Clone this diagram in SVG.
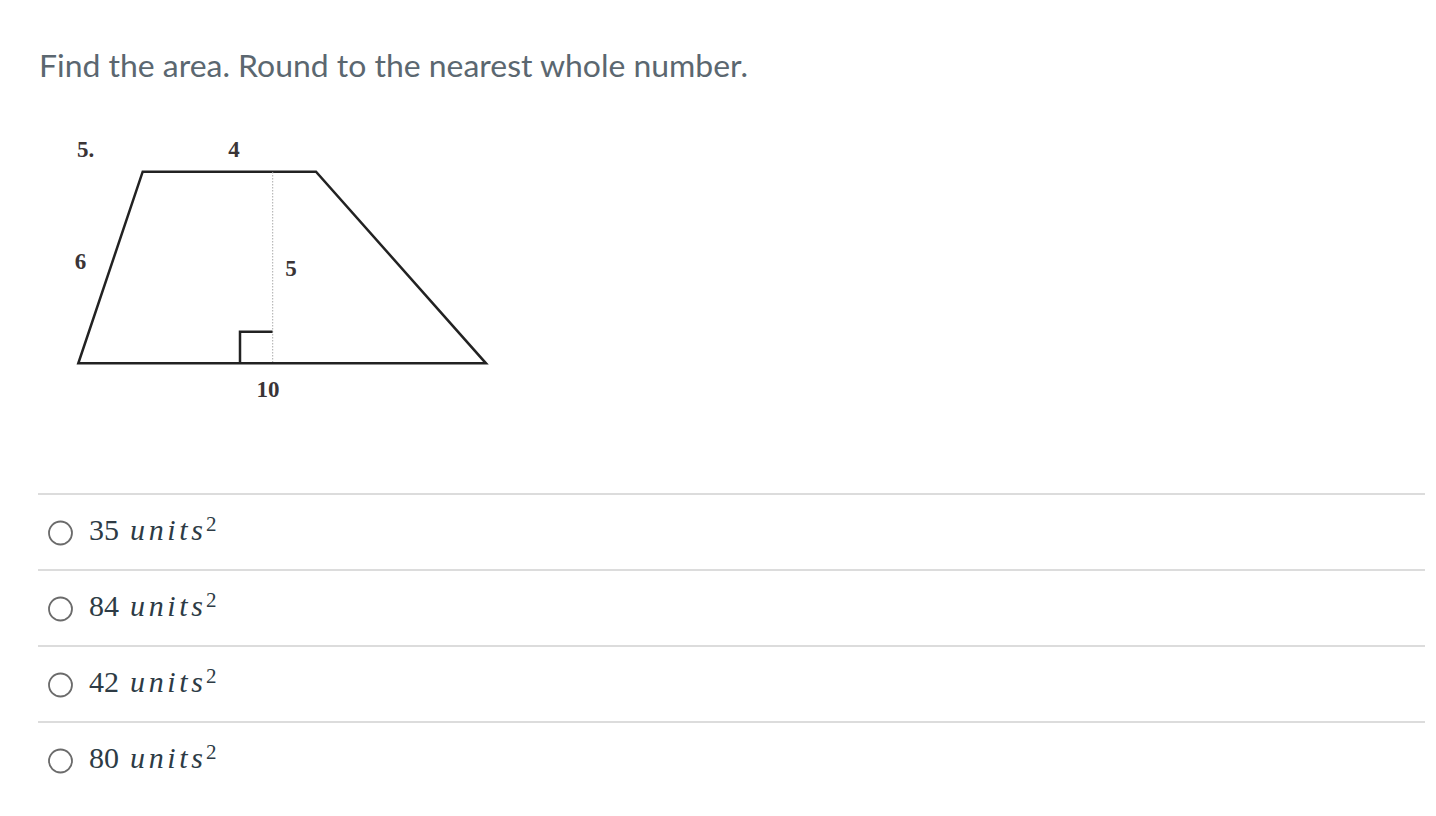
<svg xmlns="http://www.w3.org/2000/svg" width="1436" height="816" viewBox="0 0 1436 816">
<style>
.title{font-family:Lato,"Liberation Sans",sans-serif;font-size:31px;fill:#5b6770}
.fig{fill:none;stroke:#222;stroke-width:2.5;stroke-linejoin:miter}
.lbl{font-family:"Liberation Serif",serif;font-weight:bold;font-size:23px;fill:#3a3436}
.sep{stroke:#dcdcdc;stroke-width:2}
.radio{fill:#fff;stroke:#6b6b6b;stroke-width:1.8}
.num{font-family:"Liberation Serif","DejaVu Serif",serif;font-size:30px;fill:#2d3b45}
.var{font-family:"Liberation Serif","DejaVu Serif",serif;font-style:italic;font-size:30px;fill:#2d3b45}
.sup{font-family:"Liberation Serif","DejaVu Serif",serif;font-size:21px;fill:#2d3b45}
</style>
<rect width="1436" height="816" fill="#fff"/>
<text class="title" x="39" y="77" textLength="709" lengthAdjust="spacingAndGlyphs">Find the area. Round to the nearest whole number.</text>
<g id="figure">
<polygon class="fig" points="142.7,171.7 316,171.7 486,363.3 78.3,363.3"/>
<line x1="272.7" y1="172" x2="272.7" y2="362" stroke="#aaa" stroke-width="1" stroke-dasharray="1.5,1.5"/>
<polyline class="fig" points="240,363 240,331.7 272.5,331.7" stroke-width="2"/>
<text class="lbl" x="77" y="157">5.</text>
<text class="lbl" x="234" y="157" text-anchor="middle">4</text>
<text class="lbl" x="80.5" y="269" text-anchor="middle">6</text>
<text class="lbl" x="291" y="276" text-anchor="middle">5</text>
<text class="lbl" x="268" y="397" text-anchor="middle">10</text>
</g>
<g id="separators">
<line class="sep" x1="38" y1="494" x2="1425" y2="494"/>
<line class="sep" x1="38" y1="570" x2="1425" y2="570"/>
<line class="sep" x1="38" y1="646" x2="1425" y2="646"/>
<line class="sep" x1="38" y1="722" x2="1425" y2="722"/>
</g>
<g id="option1">
<circle class="radio" cx="60.5" cy="533" r="11.5"/>
<text class="num" x="89" y="540">35</text>
<text class="var" x="130" y="540" textLength="73" lengthAdjust="spacing">units</text>
<text class="sup" x="206" y="531">2</text>
</g>
<g id="option2">
<circle class="radio" cx="60.5" cy="609" r="11.5"/>
<text class="num" x="89" y="616">84</text>
<text class="var" x="130" y="616" textLength="73" lengthAdjust="spacing">units</text>
<text class="sup" x="206" y="607">2</text>
</g>
<g id="option3">
<circle class="radio" cx="60.5" cy="685" r="11.5"/>
<text class="num" x="89" y="692">42</text>
<text class="var" x="130" y="692" textLength="73" lengthAdjust="spacing">units</text>
<text class="sup" x="206" y="683">2</text>
</g>
<g id="option4">
<circle class="radio" cx="60.5" cy="761" r="11.5"/>
<text class="num" x="89" y="768">80</text>
<text class="var" x="130" y="768" textLength="73" lengthAdjust="spacing">units</text>
<text class="sup" x="206" y="759">2</text>
</g>
</svg>
